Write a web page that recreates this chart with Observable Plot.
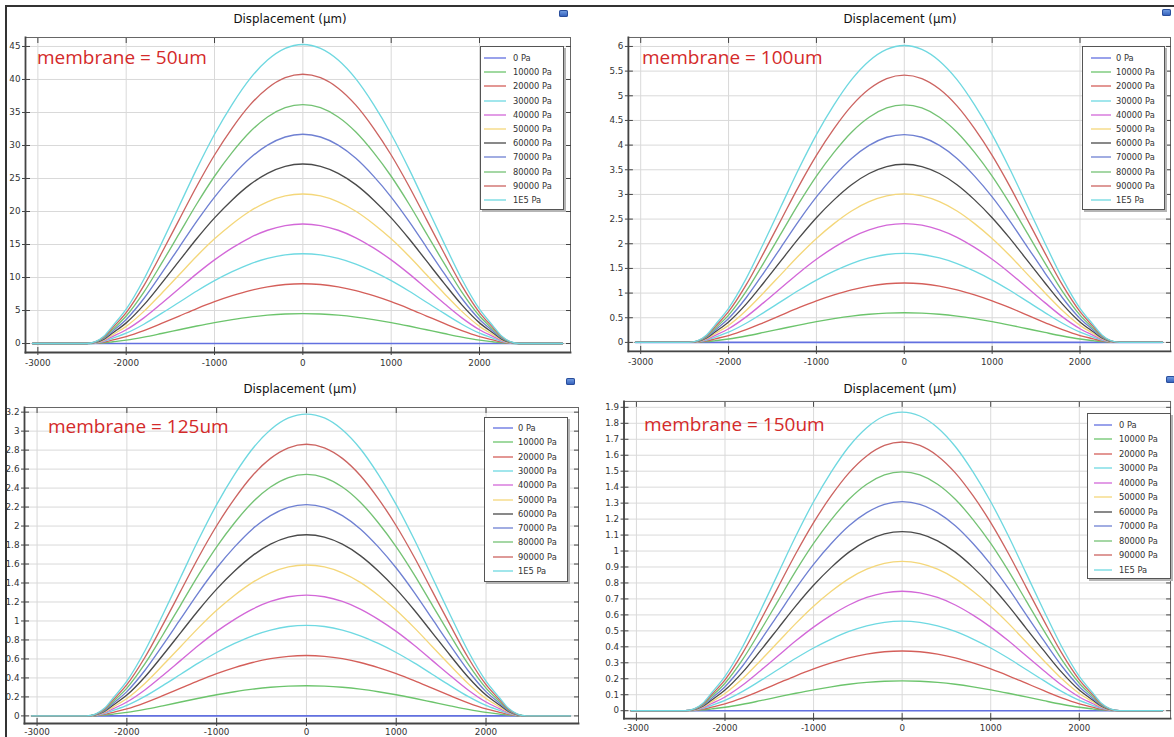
<!DOCTYPE html>
<html>
<head>
<meta charset="utf-8">
<script src="https://cdn.jsdelivr.net/npm/d3@7"></script>
<script src="https://cdn.jsdelivr.net/npm/@observablehq/plot@0.6"></script>
<style>
  html, body { margin: 0; padding: 0; background: #fff; }
  #page { position: relative; width: 1174px; height: 737px; overflow: hidden; background: #fff; }
  .title { position: absolute; font: 11.8px "DejaVu Sans", sans-serif; color: #111; transform: translate(-50%, -50%); white-space: nowrap; }
  .note { position: absolute; font: 19px "Open Sans", sans-serif; color: #d42a2a; transform: translateY(-50%); white-space: nowrap; }
  .legend { position: absolute; background: #fff; border: 1px solid #555; box-shadow: 2px 2px 0 #b5b5b5; }
  .legend .row { position: absolute; left: 0; height: 12px; display: flex; align-items: center; font: 8.3px "DejaVu Sans", sans-serif; color: #333; white-space: nowrap; }
  .legend svg { display: block; }
  .plotbox { position: absolute; }
  .icon { position: absolute; width: 9px; height: 7px; border-radius: 2px; background: linear-gradient(#7aa5e6, #2c59b8); box-shadow: inset 0 0 0 1px #2a4d9a; }
  .edge { position: absolute; background: #333; }
</style>
</head>
<body>
<div id="page"></div>
<script>
// Pressure levels and their legend labels
const pressures = [0, 10000, 20000, 30000, 40000, 50000, 60000, 70000, 80000, 90000, 100000];
const pressureLabels = ["0 Pa", "10000 Pa", "20000 Pa", "30000 Pa", "40000 Pa", "50000 Pa",
  "60000 Pa", "70000 Pa", "80000 Pa", "90000 Pa", "1E5 Pa"];
const seriesColors = ["#6270e0", "#6cc46c", "#d45f5a", "#6fd9e2", "#d368d8", "#f4d77a",
  "#4a4a4a", "#6f80d2", "#74c274", "#cc6461", "#6fd8e0"];

// Position along the cut line (µm) and relative deflection of the membrane there
const profileX = [-3060, -2600, -2450, -2350, -2250, -2150, -2000, -1800, -1600, -1400, -1200, -1000,
  -800, -600, -400, -200, 0, 200, 400, 600, 800, 1000, 1200, 1400, 1600, 1800, 2000, 2150, 2250,
  2350, 2450, 2600, 2940];
const profileShape = [0, 0, 0, 0.006, 0.025, 0.06, 0.115, 0.215, 0.335, 0.46, 0.585, 0.7,
  0.8, 0.885, 0.948, 0.987, 1, 0.987, 0.948, 0.885, 0.8, 0.7, 0.585, 0.46, 0.335, 0.215, 0.115,
  0.06, 0.025, 0.006, 0, 0, 0];

// Peak displacement (µm) at x = 0 for each pressure, one list per membrane thickness
const peaks50 = [0, 4.53, 9.06, 13.6, 18.1, 22.65, 27.2, 31.7, 36.2, 40.8, 45.3];
const peaks100 = [0, 0.602, 1.204, 1.806, 2.408, 3.01, 3.612, 4.214, 4.816, 5.418, 6.02];
const peaks125 = [0, 0.318, 0.636, 0.954, 1.272, 1.59, 1.908, 2.226, 2.544, 2.862, 3.18];
const peaks150 = [0, 0.187, 0.374, 0.561, 0.748, 0.935, 1.122, 1.309, 1.496, 1.683, 1.87];

// Axis ticks
const xTicks = [-3000, -2000, -1000, 0, 1000, 2000];
const yTicks50 = [0, 5, 10, 15, 20, 25, 30, 35, 40, 45];
const yTicks100 = [0, 0.5, 1, 1.5, 2, 2.5, 3, 3.5, 4, 4.5, 5, 5.5, 6];
const yTicks125 = [0, 0.2, 0.4, 0.6, 0.8, 1, 1.2, 1.4, 1.6, 1.8, 2, 2.2, 2.4, 2.6, 2.8, 3, 3.2];
const yTicks150 = [0, 0.1, 0.2, 0.3, 0.4, 0.5, 0.6, 0.7, 0.8, 0.9, 1, 1.1, 1.2, 1.3, 1.4, 1.5, 1.6, 1.7, 1.8, 1.9];

const titleText = "Displacement (µm)";
const panels = [
  { note: "membrane = 50um", peaks: peaks50, yTicks: yTicks50, yDomain: [-1.36, 46.36], xPad: 4,
    frame: { l: 25, t: 37, r: 570, b: 352 }, title: [290, 19], noteAt: [37, 57],
    legend: { l: 480, t: 46, w: 82, h: 162, y0: 11, step: 14.2, sw: [3, 25], tx: 32 }, icon: [559, 10] },
  { note: "membrane = 100um", peaks: peaks100, yTicks: yTicks100, yDomain: [-0.182, 6.182], xPad: 4,
    frame: { l: 628, t: 37, r: 1172, b: 352 }, title: [900, 19], noteAt: [642, 57],
    legend: { l: 1082, t: 46, w: 81, h: 162, y0: 11, step: 14.2, sw: [8, 28], tx: 33 }, icon: [1162, 9] },
  { note: "membrane = 125um", peaks: peaks125, yTicks: yTicks125, yDomain: [-0.08, 3.249], xPad: 2,
    frame: { l: 24, t: 407, r: 578, b: 723 }, title: [300, 389], noteAt: [48, 426],
    legend: { l: 484, t: 417, w: 82, h: 163, y0: 10, step: 14.3, sw: [8, 28], tx: 33 }, icon: [566, 378] },
  { note: "membrane = 150um", peaks: peaks150, yTicks: yTicks150, yDomain: [-0.049, 1.937], xPad: 3,
    frame: { l: 624, t: 401, r: 1179, b: 723 }, title: [900, 389], noteAt: [644, 424],
    legend: { l: 1087, t: 413, w: 82, h: 164, y0: 11, step: 14.45, sw: [6, 24], tx: 31 }, icon: [1166, 376] }
];
const xDomain = [-3140, 3030];

const page = document.getElementById("page");
function addDiv(cls, style, text) {
  const d = document.createElement("div");
  d.className = cls;
  Object.assign(d.style, style);
  if (text != null) d.textContent = text;
  page.appendChild(d);
  return d;
}

const fmt = (d) => String(d);
const blank = () => "";
const ML = 32, MB = 26, MT = 4, MR = 4;

for (const p of panels) {
  const rows = [];
  pressures.forEach((pr, i) => {
    profileX.forEach((x, j) => rows.push({ series: i, x, y: profileShape[j] * p.peaks[i] }));
  });
  const f = p.frame;
  const axisStyle = { stroke: "#444", label: null };
  const chart = Plot.plot({
    width: f.r - f.l + ML + MR,
    height: f.b - f.t + MT + MB,
    marginLeft: ML, marginRight: MR, marginTop: MT, marginBottom: MB,
    x: { domain: xDomain, label: null },
    y: { domain: p.yDomain, label: null },
    style: { fontFamily: "'DejaVu Sans', sans-serif", fontSize: "8.8px", color: "#333", background: "transparent", overflow: "visible" },
    marks: [
      Plot.gridX(xTicks, { stroke: "#d9d9d9", strokeOpacity: 1 }),
      Plot.gridY(p.yTicks, { stroke: "#d9d9d9", strokeOpacity: 1 }),
      ...pressures.map((pr, i) => Plot.line(rows.filter((r) => r.series === i), {
        x: "x", y: "y", stroke: seriesColors[i], strokeWidth: i === 0 ? 1.6 : 1.35, curve: "monotone-x"
      })),
      Plot.frame({ stroke: "#666", strokeWidth: 1 }),
      Plot.frame({ anchor: "left", stroke: "#444", strokeWidth: 1.8 }),
      Plot.frame({ anchor: "bottom", stroke: "#444", strokeWidth: 1.8 }),
      Plot.axisX(xTicks, { ...axisStyle, anchor: "bottom", tickSize: 3, tickPadding: p.xPad, tickFormat: fmt }),
      Plot.axisX(xTicks, { ...axisStyle, anchor: "bottom", tickSize: -5, tickFormat: blank }),
      Plot.axisX(xTicks, { ...axisStyle, anchor: "top", tickSize: -5, tickFormat: blank }),
      Plot.axisY(p.yTicks, { ...axisStyle, anchor: "left", tickSize: 3, tickPadding: 2, tickFormat: fmt }),
      Plot.axisY(p.yTicks, { ...axisStyle, anchor: "left", tickSize: -5, tickFormat: blank }),
      Plot.axisY(p.yTicks, { ...axisStyle, anchor: "right", tickSize: -5, tickFormat: blank })
    ]
  });
  const box = addDiv("plotbox", { left: (f.l - ML) + "px", top: (f.t - MT) + "px" });
  box.appendChild(chart);

  addDiv("title", { left: p.title[0] + "px", top: p.title[1] + "px" }, titleText);
  addDiv("note", { left: p.noteAt[0] + "px", top: p.noteAt[1] + "px" }, p.note);

  // legend: one row per pressure with a short line swatch
  const L = p.legend;
  const lg = addDiv("legend", { left: L.l + "px", top: L.t + "px", width: L.w + "px", height: L.h + "px" });
  pressureLabels.forEach((lab, i) => {
    const row = document.createElement("div");
    row.className = "row";
    row.style.top = Math.round(L.y0 + i * L.step - 6) + "px";
    const sw = document.createElementNS("http://www.w3.org/2000/svg", "svg");
    sw.setAttribute("width", L.tx);
    sw.setAttribute("height", 12);
    const ln = document.createElementNS("http://www.w3.org/2000/svg", "line");
    ln.setAttribute("x1", L.sw[0]);
    ln.setAttribute("x2", L.sw[1]);
    ln.setAttribute("y1", 6);
    ln.setAttribute("y2", 6);
    ln.setAttribute("stroke", seriesColors[i]);
    ln.setAttribute("stroke-width", 1.3);
    sw.appendChild(ln);
    const tx = document.createElement("span");
    tx.textContent = lab;
    row.appendChild(sw);
    row.appendChild(tx);
    lg.appendChild(row);
  });

  addDiv("icon", { left: p.icon[0] + "px", top: p.icon[1] + "px" });
}

// window edges along the top and left
addDiv("edge", { left: "5px", top: "5px", width: "1169px", height: "1.5px" });
addDiv("edge", { left: "5px", top: "5px", width: "1.5px", height: "732px" });
</script>
</body>
</html>
